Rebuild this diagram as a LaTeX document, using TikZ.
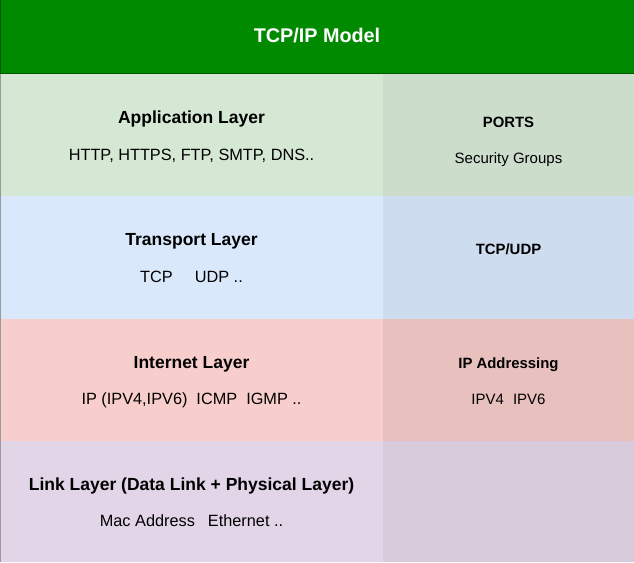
\documentclass[tikz,border=0pt]{standalone}
\usepackage{fontspec}
\setmainfont{Liberation Sans}
\definecolor{hdrfill}{HTML}{008A00}
\definecolor{hdrline}{HTML}{005700}
\definecolor{appL}{HTML}{D5E8D4}
\definecolor{appR}{HTML}{CCDDCB}
\definecolor{trnL}{HTML}{DAE8FC}
\definecolor{trnR}{HTML}{CEDCEF}
\definecolor{intL}{HTML}{F8CECC}
\definecolor{intR}{HTML}{E8C0BD}
\definecolor{lnkL}{HTML}{E1D5E7}
\definecolor{lnkR}{HTML}{D8CBDC}
\definecolor{edge}{HTML}{9A9A9A}
\begin{document}
\begin{tikzpicture}[x=1pt,y=-1pt,
  ttl/.style={font=\fontsize{17.5}{20}\selectfont\bfseries,inner sep=0,anchor=base},
  sub/.style={font=\fontsize{16.3}{19}\selectfont,inner sep=0,anchor=base},
  rttl/.style={font=\fontsize{14.9}{17}\selectfont\bfseries,inner sep=0,anchor=base},
  rsub/.style={font=\fontsize{15}{18}\selectfont,inner sep=0,anchor=base},
  hdr/.style={font=\fontsize{19.8}{23}\selectfont\bfseries,text=white,inner sep=0,anchor=base}]
\useasboundingbox (0,0) rectangle (634,562);
% row backgrounds
\fill[appL] (0,74) rectangle (383,196);
\fill[appR] (383,74) rectangle (634,196);
\fill[trnL] (0,196) rectangle (383,319);
\fill[trnR] (383,196) rectangle (634,319);
\fill[intL] (0,319) rectangle (383,441);
\fill[intR] (383,319) rectangle (634,441);
\fill[lnkL] (0,441) rectangle (383,562);
\fill[lnkR] (383,441) rectangle (634,562);
\draw[edge,line width=1pt] (0.5,74) -- (0.5,562);
% header
\fill[hdrfill] (0,0) rectangle (634,74);
\draw[hdrline,line width=1pt] (0.5,0) -- (0.5,73.5) -- (634,73.5);
\node[hdr] (title) at (317,42) {TCP/IP Model};
% application
\node[ttl] (appT) at (191.5,123.5) {Application Layer};
\node[sub] (appS) at (191.5,160.5) {HTTP, HTTPS, FTP, SMTP, DNS..};
\node[rttl] (appRT) at (508.5,127.5) {PORTS};
\node[rsub] (appRS) at (508.5,163) {Security Groups};
% transport
\node[ttl] (trnT) at (191.5,245.8) {Transport Layer};
\node[sub] (trnS) at (191.5,282.3) {TCP\hspace{22pt}UDP ..};
\node[rttl] (trnRT) at (508.5,254.5) {TCP/UDP};
% internet
\node[ttl] (intT) at (191.5,368.3) {Internet Layer};
\node[sub] (intS) at (191.5,404.8) {IP (IPV4,IPV6)\hspace{9pt}ICMP\hspace{9pt}IGMP ..};
\node[rttl] (intRT) at (508.5,368.5) {IP Addressing};
\node[rsub] (intRS) at (508.5,404) {IPV4\hspace{9pt}IPV6};
% link
\node[ttl] (lnkT) at (191.5,490) {Link Layer (Data Link + Physical Layer)};
\node[sub] (lnkS) at (191.5,526.4) {Mac Address\hspace{13pt}Ethernet ..};
\end{tikzpicture}
\end{document}
